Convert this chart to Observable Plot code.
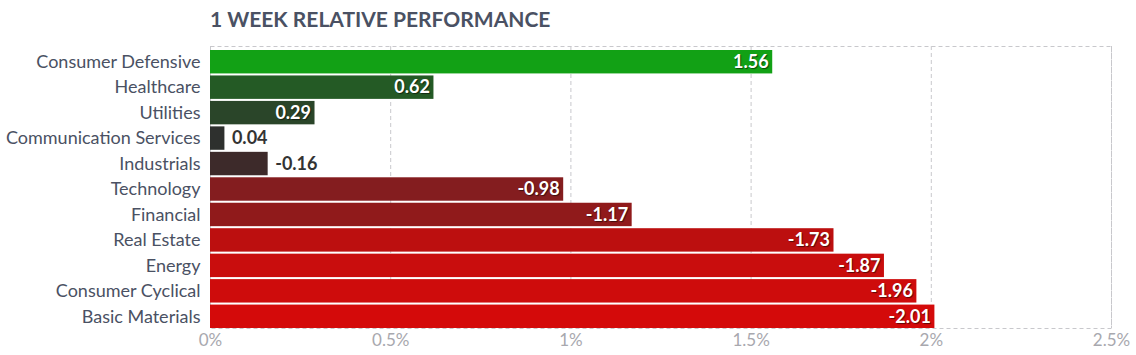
<!DOCTYPE html>
<html>
<head>
<meta charset="utf-8">
<script src="https://cdn.jsdelivr.net/npm/d3@7"></script>
<script src="https://cdn.jsdelivr.net/npm/@observablehq/plot@0.6"></script>
<style>
  body { margin: 0; background: #fff; font-family: Lato, sans-serif; }
  #title { font: bold 21px Lato, sans-serif; color: #4a5163; padding: 6px 0 0 210px; height: 36px; box-sizing: border-box; }
  .inlabel text { text-shadow: 1px 1px 1px rgba(0,0,0,0.55); }
</style>
</head>
<body>
<div id="title">1 WEEK RELATIVE PERFORMANCE</div>
<div id="chart"></div>
<script>
const sectors = ["Consumer Defensive","Healthcare","Utilities","Communication Services","Industrials","Technology","Financial","Real Estate","Energy","Consumer Cyclical","Basic Materials"];
const values = [1.56, 0.62, 0.29, 0.04, -0.16, -0.98, -1.17, -1.73, -1.87, -1.96, -2.01];
const colors = ["#12a115","#245a25","#2a4529","#2e302e","#3d2a2a","#841d1f","#901a1b","#bc0f0f","#c90d0d","#ce0c0c","#d40a0a"];
const xTicks = [0, 0.5, 1, 1.5, 2, 2.5];

const data = sectors.map((s, i) => ({sector: s, value: values[i], abs: Math.abs(values[i]), color: colors[i]}));
const inside = data.filter(d => d.abs >= 0.25);
const outside = data.filter(d => d.abs < 0.25);

const chart = Plot.plot({
  width: 1136,
  height: 319,
  marginTop: 10,
  marginBottom: 27,
  marginLeft: 210,
  marginRight: 25,
  style: {fontFamily: "Lato, sans-serif", background: "#fff", fontSize: "17px"},
  x: {domain: [0, 2.5], ticks: xTicks, tickFormat: d => d + "%", label: null, tickSize: 0},
  y: {domain: sectors, range: [14, 292], round: false, label: null, paddingInner: 0.08, paddingOuter: 0, tickSize: 0, tickPadding: 10},
  marks: [
    Plot.gridX(xTicks, {stroke: "#c8c8cc", strokeOpacity: 1, strokeDasharray: "4,3"}),
    Plot.frame({stroke: "#c8c8cc", strokeDasharray: "4,3"}),
    Plot.barX(data, {x: "abs", y: "sector", fill: d => d.color}),
    Plot.text(inside, {x: "abs", y: "sector", text: d => d.value.toFixed(2), textAnchor: "end", dx: -4, fill: "#fff", fontWeight: "bold", fontSize: 18, className: "inlabel"}),
    Plot.text(outside, {x: "abs", y: "sector", text: d => d.value.toFixed(2), textAnchor: "start", dx: 7, fill: "#333", fontWeight: "bold", fontSize: 18}),
    Plot.axisX({ticks: xTicks, tickFormat: d => d + "%", tickSize: 0, tickPadding: 5, fontSize: 17, fill: "#a8a8ae", label: null}),
    Plot.axisY({tickSize: 0, tickPadding: 10, fontSize: 18, fill: "#4a5163", label: null})
  ]
});
document.getElementById("chart").appendChild(chart);
</script>
</body>
</html>
